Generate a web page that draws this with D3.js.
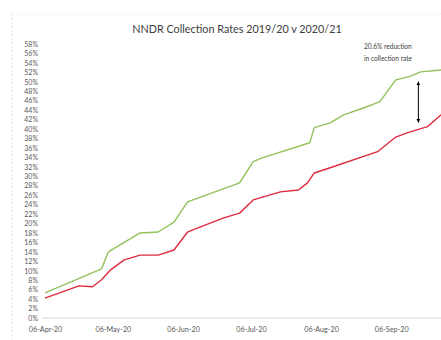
<!DOCTYPE html>
<html>
<head>
  <meta charset="utf-8">
  <script src="https://d3js.org/d3.v7.min.js"></script>
  <style>
  body { margin: 0; background: #fff; }
  text { font-family: Lato, "Open Sans", sans-serif; fill: #595959; }
  </style>
</head>
<body>
<div id="chart"></div>
<script>
// 2019/20 collection (green) - dates and cumulative %
var prevDates = ["2020-04-06","2020-05-01","2020-05-04","2020-05-18","2020-05-26","2020-06-02","2020-06-08",
  "2020-07-01","2020-07-07","2020-07-11","2020-08-01","2020-08-03","2020-08-10","2020-08-16","2020-08-25",
  "2020-09-01","2020-09-08","2020-09-14","2020-09-19","2020-09-28"];
var prevRates = [5.3,10.4,14.0,18.0,18.2,20.3,24.6,28.6,33.1,33.9,37.1,40.3,41.3,43.0,44.5,45.8,50.4,51.1,52.1,52.5];

// 2020/21 collection (red)
var currDates = ["2020-04-06","2020-04-21","2020-04-27","2020-05-01","2020-05-05","2020-05-11","2020-05-18",
  "2020-05-26","2020-06-02","2020-06-08","2020-06-10","2020-06-24","2020-07-01","2020-07-07","2020-07-19",
  "2020-07-27","2020-07-31","2020-08-03","2020-08-10","2020-08-31","2020-09-08","2020-09-13","2020-09-22","2020-09-28"];
var currRates = [4.2,6.8,6.6,8.1,10.2,12.3,13.3,13.3,14.4,18.2,18.6,21.2,22.2,25.0,26.7,27.1,28.6,30.7,31.8,35.2,38.3,39.2,40.5,43.0];

var tickDates = ["2020-04-06","2020-05-06","2020-06-06","2020-07-06","2020-08-06","2020-09-06"];
var yTicks = d3.range(0, 59, 2);

var annoDate = "2020-09-18", annoTop = 50.0, annoBottom = 41.4;
var annoLines = ["20.6% reduction", "in collection rate"];

var width = 441, height = 340;
var margin = {top: 44, right: 0, bottom: 22, left: 45};
var parse = d3.utcParse("%Y-%m-%d");

var x = d3.scaleUtc()
  .domain([parse("2020-04-06"), parse("2020-09-28")])
  .range([margin.left, width - margin.right]);
var y = d3.scaleLinear().domain([0, 58]).range([height - margin.bottom, margin.top]);

var svg = d3.select("#chart").append("svg")
  .attr("width", width).attr("height", height);

// faint frame of the chart area
svg.append("line").attr("x1", 12).attr("x2", 12).attr("y1", 14).attr("y2", height)
  .attr("stroke", "#e4e4e4").attr("stroke-dasharray", "2,2");
svg.append("line").attr("x1", 12).attr("x2", width).attr("y1", 14).attr("y2", 14)
  .attr("stroke", "#f0f0f0").attr("stroke-dasharray", "2,2");

svg.append("text")
  .attr("x", 237).attr("y", 33)
  .attr("text-anchor", "middle")
  .style("font-size", "10.8px")
  .style("fill", "#404040")
  .text("NNDR Collection Rates 2019/20 v 2020/21");

// y axis labels
var yAxis = svg.append("g")
  .attr("transform", "translate(" + 38 + ",0)")
  .call(d3.axisLeft(y).tickValues(yTicks).tickSize(0).tickPadding(0)
    .tickFormat(function(d) { return d + "%"; }));
yAxis.select(".domain").remove();
yAxis.selectAll("text").style("font-size", "7px").style("fill", "#595959");

// x axis
var xAxis = svg.append("g")
  .attr("transform", "translate(0," + y(0) + ")")
  .call(d3.axisBottom(x).tickValues(tickDates.map(parse)).tickSize(0).tickPadding(9)
    .tickFormat(d3.utcFormat("%d-%b-%y")));
xAxis.select(".domain").attr("stroke", "#d9d9d9").attr("d", "M" + (margin.left - 3) + ",0H" + width);
xAxis.selectAll("text").style("font-size", "7.2px").style("fill", "#595959");

var line = d3.line()
  .x(function(d) { return x(d[0]); })
  .y(function(d) { return y(d[1]); });

svg.append("path")
  .datum(d3.zip(prevDates.map(parse), prevRates))
  .attr("fill", "none").attr("stroke", "#93c15b").attr("stroke-width", 1.4)
  .attr("stroke-linejoin", "round")
  .attr("d", line);

svg.append("path")
  .datum(d3.zip(currDates.map(parse), currRates))
  .attr("fill", "none").attr("stroke", "#de2b40").attr("stroke-width", 1.4)
  .attr("stroke-linejoin", "round")
  .attr("d", line);

// annotation arrow
var defs = svg.append("defs");
defs.append("marker").attr("id", "head")
  .attr("viewBox", "0 0 10 10").attr("refX", 9).attr("refY", 5)
  .attr("markerWidth", 4).attr("markerHeight", 4).attr("orient", "auto-start-reverse")
  .append("path").attr("d", "M0,0L10,5L0,10z").attr("fill", "#000");

svg.append("line")
  .attr("x1", x(parse(annoDate))).attr("x2", x(parse(annoDate)))
  .attr("y1", y(annoTop)).attr("y2", y(annoBottom))
  .attr("stroke", "#000").attr("stroke-width", 1)
  .attr("marker-start", "url(#head)").attr("marker-end", "url(#head)");

svg.append("text")
  .attr("x", 364).attr("y", 49)
  .style("font-size", "6.6px").style("fill", "#404040")
  .selectAll("tspan").data(annoLines).enter().append("tspan")
  .attr("x", 364).attr("dy", function(d, i) { return i ? 12 : 0; })
  .text(function(d) { return d; });
</script>
</body>
</html>
